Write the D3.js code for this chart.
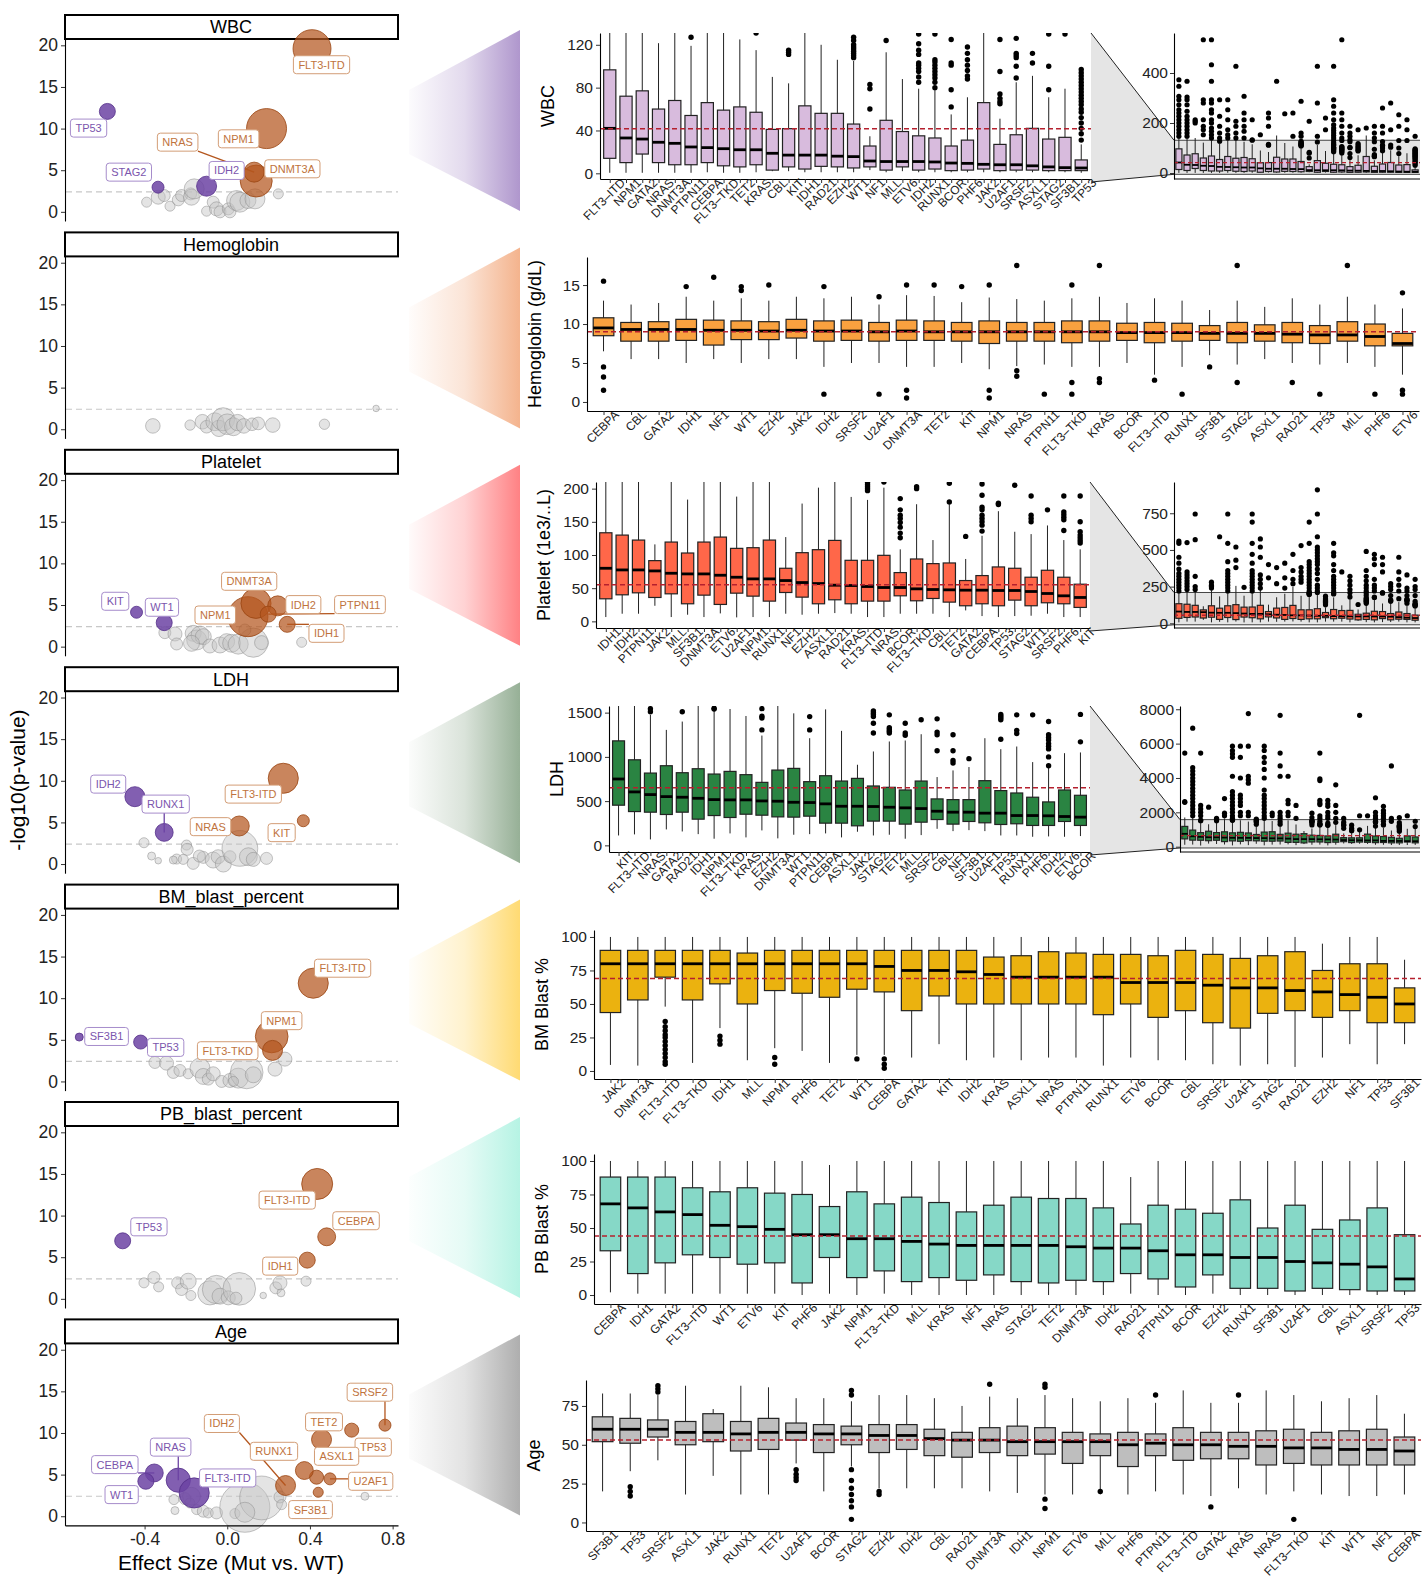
<!DOCTYPE html>
<html>
<head>
<meta charset="utf-8">
<script src="https://cdn.jsdelivr.net/npm/d3@7"></script>
<style>
  body { margin: 0; background: #fff; }
  svg { display: block; font-family: "Liberation Sans", Arial, Helvetica, sans-serif; }
</style>
</head>
<body>
<svg id="chart"></svg>
<script>
// ---------- volcano facets: [gene, effect size, -log10(p), n mutated, direction]
const facetNames = ["WBC", "Hemoglobin", "Platelet", "LDH", "BM_blast_percent", "PB_blast_percent", "Age"];

const wbcPts = [
  ["", -0.39, 1.16, 19, "ns"], ["", -0.334, 1.76, 37, "ns"], ["", -0.305, 1.96, 27, "ns"], ["", -0.277, 0.68, 19, "ns"],
  ["", -0.237, 1.44, 27, "ns"], ["", -0.221, 1.96, 27, "ns"], ["", -0.177, 2.16, 27, "ns"], ["", -0.173, 1.76, 48, "ns"],
  ["", -0.16, 2.76, 75, "ns"], ["", -0.1, 0.08, 19, "ns"], ["", -0.068, 1.16, 27, "ns"], ["", -0.052, 0.36, 37, "ns"],
  ["", -0.035, 0.0, 27, "ns"], ["", 0.005, 0.36, 27, "ns"], ["", 0.013, 0.0, 27, "ns"], ["", 0.045, 1.36, 75, "ns"],
  ["", 0.061, 1.16, 75, "ns"], ["", 0.10, 1.36, 48, "ns"], ["", 0.134, 1.56, 75, "ns"], ["", 0.247, 2.16, 19, "ns"],
  ["FLT3-ITD", 0.41, 19.6, 270, "up"], ["NPM1", 0.19, 10.0, 300, "up"], ["DNMT3A", 0.14, 3.7, 192, "up"],
  ["NRAS", 0.13, 4.77, 75, "up"], ["TP53", -0.58, 12.06, 48, "down"], ["STAG2", -0.335, 2.96, 27, "down"],
  ["IDH2", -0.10, 3.08, 75, "down"]
];
const wbcLabels = [["FLT3-ITD", 0.456, 17.67], ["NPM1", 0.055, 8.77], ["NRAS", -0.24, 8.37], ["DNMT3A", 0.315, 5.17],
  ["TP53", -0.671, 10.06], ["STAG2", -0.476, 4.77], ["IDH2", -0.003, 4.97]];

const hgbPts = [
  ["", -0.36, 0.4, 40, "ns"], ["", -0.18, 0.5, 20, "ns"], ["", -0.12, 0.9, 40, "ns"], ["", -0.1, 0.3, 30, "ns"],
  ["", -0.06, 0.9, 60, "ns"], ["", -0.04, 0.1, 50, "ns"], ["", -0.02, 1.2, 100, "ns"], ["", 0.0, 0.6, 80, "ns"],
  ["", 0.03, 0.3, 60, "ns"], ["", 0.05, 0.8, 50, "ns"], ["", 0.08, 0.4, 40, "ns"], ["", 0.12, 0.6, 30, "ns"],
  ["", 0.15, 0.7, 30, "ns"], ["", 0.22, 0.5, 40, "ns"], ["", 0.47, 0.6, 20, "ns"], ["", 0.72, 2.5, 8, "ns"]
];
const hgbLabels = [];

const pltPts = [
  ["", -0.302, 1.68, 27, "ns"], ["", -0.253, 1.52, 37, "ns"], ["", -0.245, 0.32, 27, "ns"], ["", -0.165, 1.6, 48, "ns"],
  ["", -0.148, 0.8, 75, "ns"], ["", -0.132, 1.4, 60, "ns"], ["", -0.116, 1.2, 48, "ns"], ["", -0.173, 0.4, 48, "ns"],
  ["", -0.084, 0.08, 37, "ns"], ["", -0.035, 0.2, 48, "ns"], ["", -0.003, 0.6, 48, "ns"], ["", 0.021, 0.4, 60, "ns"],
  ["", 0.053, 0.3, 75, "ns"], ["", 0.126, 0.48, 160, "ns"], ["", 0.166, 0.48, 37, "ns"], ["", 0.36, 0.52, 19, "ns"],
  ["NPM1", 0.10, 3.6, 300, "up"], ["DNMT3A", 0.139, 5.2, 170, "up"], ["IDH2", 0.244, 4.9, 75, "up"],
  ["PTPN11", 0.198, 3.9, 48, "up"], ["IDH1", 0.29, 2.68, 48, "up"], ["", 0.085, 2.0, 27, "ns"],
  ["KIT", -0.439, 4.13, 27, "down"], ["WT1", -0.305, 2.88, 48, "down"]
];
const pltLabels = [["DNMT3A", 0.106, 7.85], ["NPM1", -0.058, 3.8], ["IDH2", 0.368, 5.05], ["PTPN11", 0.642, 5.05],
  ["IDH1", 0.48, 1.6], ["KIT", -0.542, 5.45], ["WT1", -0.316, 4.73]];

const ldhPts = [
  ["", -0.403, 2.56, 19, "ns"], ["", -0.366, 0.96, 12, "ns"], ["", -0.334, 0.4, 8, "ns"], ["", -0.245, 0.6, 19, "ns"],
  ["", -0.197, 2.28, 19, "ns"], ["", -0.194, 1.76, 27, "ns"], ["", -0.165, 0.08, 27, "ns"], ["", -0.116, 0.8, 27, "ns"],
  ["", -0.068, 0.48, 48, "ns"], ["", -0.044, 0.88, 37, "ns"], ["", -0.019, 0.0, 48, "ns"], ["", 0.013, 0.88, 27, "ns"],
  ["", 0.061, 1.88, 240, "ns"], ["", 0.102, 0.88, 60, "ns"], ["", 0.126, 0.56, 37, "ns"], ["", 0.19, 0.68, 27, "ns"],
  ["", -0.213, 0.56, 19, "ns"], ["", -0.261, 0.48, 12, "ns"], ["", -0.135, 0.96, 27, "ns"],
  ["IDH2", -0.447, 8.09, 75, "down"], ["RUNX1", -0.305, 3.8, 60, "down"], ["FLT3-ITD", 0.271, 10.3, 170, "up"],
  ["NRAS", 0.058, 4.57, 75, "up"], ["KIT", 0.368, 5.2, 27, "up"]
];
const ldhLabels = [["IDH2", -0.576, 9.6], ["RUNX1", -0.298, 7.2], ["FLT3-ITD", 0.126, 8.4], ["NRAS", -0.081, 4.49], ["KIT", 0.263, 3.77]];

const bmPts = [
  ["", -0.35, 2.28, 27, "ns"], ["", -0.294, 2.2, 37, "ns"], ["", -0.261, 1.08, 27, "ns"], ["", -0.229, 1.32, 27, "ns"],
  ["", -0.189, 0.92, 19, "ns"], ["", -0.132, 1.6, 75, "ns"], ["", -0.116, 0.6, 48, "ns"], ["", -0.092, 0.28, 27, "ns"],
  ["", -0.068, 0.92, 37, "ns"], ["", -0.027, 0.0, 27, "ns"], ["", 0.013, 0.12, 37, "ns"], ["", 0.053, 0.4, 75, "ns"],
  ["", 0.094, 1.08, 200, "ns"], ["", 0.126, 0.8, 48, "ns"], ["", 0.231, 1.48, 37, "ns"], ["", 0.279, 2.68, 37, "ns"],
  ["", 0.03, 0.0, 19, "ns"],
  ["SF3B1", -0.716, 5.33, 12, "down"], ["TP53", -0.419, 4.73, 37, "down"], ["FLT3-ITD", 0.416, 11.8, 170, "up"],
  ["NPM1", 0.215, 5.4, 200, "up"], ["FLT3-TKD", 0.219, 3.73, 75, "up"]
];
const bmLabels = [["SF3B1", -0.584, 5.4], ["TP53", -0.298, 4.09], ["FLT3-ITD", 0.558, 13.6], ["NPM1", 0.263, 7.3], ["FLT3-TKD", 0.002, 3.69]];

const pbPts = [
  ["", -0.403, 1.92, 19, "ns"], ["", -0.355, 2.56, 27, "ns"], ["", -0.332, 1.44, 19, "ns"], ["", -0.24, 1.92, 27, "ns"],
  ["", -0.221, 1.12, 27, "ns"], ["", -0.189, 2.12, 48, "ns"], ["", -0.176, 0.4, 19, "ns"], ["", -0.084, 0.72, 110, "ns"],
  ["", -0.052, 1.12, 150, "ns"], ["", -0.035, 0.32, 48, "ns"], ["", 0.005, 0.12, 37, "ns"], ["", 0.058, 1.2, 200, "ns"],
  ["", 0.042, 0.08, 27, "ns"], ["", 0.174, 0.4, 8, "ns"], ["", 0.235, 1.32, 27, "ns"], ["", 0.255, 1.92, 37, "ns"],
  ["", 0.26, 0.72, 12, "ns"], ["", 0.381, 2.12, 19, "ns"],
  ["TP53", -0.506, 6.97, 48, "down"], ["FLT3-ITD", 0.435, 13.8, 180, "up"], ["CEBPA", 0.481, 7.45, 60, "up"],
  ["IDH1", 0.387, 4.65, 48, "up"]
];
const pbLabels = [["TP53", -0.379, 8.65], ["FLT3-ITD", 0.29, 11.86], ["CEBPA", 0.623, 9.38], ["IDH1", 0.256, 3.93]];

const agePts = [
  ["", -0.258, 2.0, 19, "ns"], ["", -0.253, 0.68, 12, "ns"], ["", -0.205, 2.12, 27, "ns"], ["", -0.181, 1.6, 19, "ns"],
  ["", -0.173, 2.4, 60, "ns"], ["", -0.148, 0.8, 19, "ns"], ["", -0.116, 0.6, 27, "ns"], ["", -0.092, 0.4, 19, "ns"],
  ["", -0.052, 0.4, 27, "ns"], ["", 0.037, 0.32, 19, "ns"], ["", 0.085, 1.08, 470, "ns"], ["", 0.166, 2.2, 360, "ns"],
  ["", 0.085, 0.48, 75, "ns"], ["", 0.255, 2.32, 27, "ns"], ["", 0.263, 1.4, 19, "ns"], ["", 0.666, 2.4, 12, "ns"],
  ["CEBPA", -0.353, 5.2, 60, "down"], ["WT1", -0.394, 4.2, 48, "down"], ["NRAS", -0.237, 4.33, 110, "down"],
  ["FLT3-ITD", -0.16, 2.8, 170, "down"],
  ["SRSF2", 0.763, 10.94, 27, "up"], ["TP53", 0.602, 10.34, 37, "up"], ["TET2", 0.456, 9.21, 75, "up"],
  ["ASXL1", 0.432, 4.69, 37, "up"], ["RUNX1", 0.373, 5.49, 60, "up"], ["U2AF1", 0.497, 4.49, 27, "up"],
  ["IDH2", 0.282, 3.69, 75, "up"], ["SF3B1", 0.44, 2.88, 19, "up"]
];
const ageLabels = [["CEBPA", -0.544, 6.2], ["WT1", -0.511, 2.6], ["NRAS", -0.274, 8.3], ["FLT3-ITD", 0.002, 4.6],
  ["SRSF2", 0.69, 14.9], ["TP53", 0.706, 8.3], ["TET2", 0.468, 11.34], ["ASXL1", 0.529, 7.2], ["RUNX1", 0.226, 7.8],
  ["U2AF1", 0.694, 4.2], ["IDH2", -0.026, 11.14], ["SF3B1", 0.403, 0.8]];

const facetPts = [wbcPts, hgbPts, pltPts, ldhPts, bmPts, pbPts, agePts];
const facetLabels = [wbcLabels, hgbLabels, pltLabels, ldhLabels, bmLabels, pbLabels, ageLabels];
const effectTicks = [-0.4, 0, 0.4, 0.8];
const logpTicks = [0, 5, 10, 15, 20];
const pCut = 2.4;

// ---------- boxplot panels
const wbcGenes = ["FLT3-ITD","NPM1","GATA2","NRAS","DNMT3A","PTPN11","CEBPA","FLT3-TKD","TET2","KRAS","CBL","KIT","IDH1","RAD21","EZH2","WT1","NF1","MLL","ETV6","IDH2","RUNX1","BCOR","PHF6","JAK2","U2AF1","SRSF2","ASXL1","STAG2","SF3B1","TP53"];
const wbcQ3 = [96.6,72,77,60,68,54,66,59,62,57,41,41.7,63,56,56,46,25.5,49.5,39,35,33,25.5,31,66,27,36,42,32,33.6,12.5];
const wbcMed = [42,33,32,29,28,24.6,24,23,22,22,18.7,17,17,17,16,15.6,11.5,11,11,11,10.6,9.6,9.3,8.4,8,8,7,6,5.3,5];
const wbcQ1 = [14,10,18,10,8,8,10,7,6,8,3,6,4,6.5,6,5,6,3,6,3,4,2.5,3,4,2.5,3,3,2.5,2.5,2.5];
const wbcLo = [0.5,0.5,0.5,0.5,0.5,0.5,1,0.5,0.5,1,2,2,1,1,1,1,3,1,2,1,1,1,1,1,1,1,1,1,1,0.5];
const wbcHi = [140,150,140,121.5,145,119,150,150,125,115,90,84,150,120,106,105,34.6,113,88,79,79,55,71,150,51,85,91,71,79,27];
const wbcOut = [[],[],[],[],[],[127],[],[],[],[131],[],[111,113,115],[],[],[],[108,110,112,114,116,118,120,124,127],[60,79,83],[124],[],
  [85,90,95,98,101,103,111,115,121,130],[80,85,89,92,95,98,101,104,106,130],[62,78,101,103,125],[88,91,96,101,106,112,118],[],
  [65,67,70,74,95,125],[89,100,108,110,112,126],[103,112],[78,100,130],[130],[31,37,42,47,52,57,60,64,67,70,73,76,79,82,85,88,91,94,97]];
const wbcOutHigh = [[147,160,173,187,200,213,227,240,253,273,293,307,347,373],[147,160,173,187,200,213,227,247,273,293,304,367],[200,207,213],
  [153,173,187,213,280,293,533],[140,153,167,180,200,213,240,253,280,293,367,433,533],[140,160,187,227,293],[140,153,173,213,253,293],
  [140,160,187,207,427],[140,167,187,213,240,307],[133,213],[153],[187,220,240],[367],[237],[147,240],[147,160,287],[207],[147,280,427],
  [173,220],[140,150,160,170,180,193,213,240,267,293,427],[140,160,187,213,240,533],[133,147,160,187],[173],[180],[140,160,187],
  [160,187,260],[173,280],[187,233],[173,213],[147]];

const hgbGenes = ["CEBPA","CBL","GATA2","IDH1","NF1","WT1","EZH2","JAK2","IDH2","SRSF2","U2AF1","DNMT3A","TET2","KIT","NPM1","NRAS","PTPN11","FLT3-TKD","KRAS","BCOR","FLT3-ITD","RUNX1","SF3B1","STAG2","ASXL1","RAD21","TP53","MLL","PHF6","ETV6"];
const hgbQ3 = [10.8,10.2,10.3,10.6,10.5,10.4,10.3,10.6,10.4,10.5,10.2,10.5,10.4,10.2,10.4,10.2,10.2,10.4,10.4,10.1,10.2,10.1,9.8,10.2,9.9,10.2,9.8,10.3,10.0,8.8];
const hgbMed = [9.5,9.3,9.3,9.3,9.2,9.2,9.1,9.2,9.1,9.1,9.0,9.1,9.0,9.0,9.0,9.0,9.0,9.0,9.0,8.9,8.9,8.9,8.8,8.8,8.8,8.7,8.6,8.6,8.4,7.5];
const hgbQ1 = [8.5,7.8,7.8,7.9,7.3,8.0,8.0,8.2,7.8,7.9,7.8,7.9,7.9,7.8,7.5,7.8,7.8,7.6,7.8,7.9,7.6,7.8,7.9,7.6,7.8,7.6,7.5,7.8,7.2,7.2];
const hgbLo = [6.5,5.5,5.5,5,5.5,5,5.5,5.5,4.5,5,5,4.5,4.5,5,4.2,4.6,4.8,4.5,4.5,5,3.5,4.5,6,4.8,5.5,5,4.8,5,4.5,3.5];
const hgbHi = [13,12.5,12.7,13.5,13,13.3,13,13.5,13.3,13.5,12.5,13.7,13.6,12.8,13.4,13.2,13,13.3,13.5,12.7,13.3,13,11.8,13,12.2,13.3,12.5,13.5,12.5,12];
const hgbOut = [[15.5,4.5,3.2,1.5],[],[],[14.8],[16],[14.3,14.8],[15],[],[14.8,1],[],[13.5,1],[15,1.5,0.5],[15],[14.8],[15,1.5,0.5],
  [17.5,4,3.3],[1],[15,2.5,1],[17.5,3,2.5],[],[2.8],[1],[4.5],[17.5,2.5],[],[2.5],[1],[17.5],[1],[14,1.5,1]];

const pltGenes = ["IDH1","IDH2","PTPN11","JAK2","MLL","SF3B1","DNMT3A","ETV6","U2AF1","NPM1","RUNX1","NF1","EZH2","ASXL1","RAD21","KRAS","FLT3-ITD","NRAS","BCOR","FLT3-TKD","CBL","TET2","GATA2","CEBPA","TP53","STAG2","WT1","SRSF2","PHF6","KIT"];
const pltQ3 = [133.5,130,122.5,91.5,119.5,103,119.5,127,110,111,122.5,80,103.5,108,122,92,92,99.5,73.5,94,87,88,61.5,69,82,80,66.5,77,66.5,56];
const pltMed = [80,77.5,77.5,76,72.5,71.5,71.5,69.5,66.5,64,64,61.5,58.5,57,54.5,54,52.5,51,51,49,48,47.5,47,47,46.5,46.5,45,42,38.5,36];
const pltQ1 = [34,40,43,36,41.5,26.5,39.5,25.5,42.5,38,30.5,43.5,36.5,26.5,32.5,26.5,30.5,30.5,38.5,31,34.5,29,23.5,26.5,23.5,32,23.5,28,26.5,21];
const pltLo = [6.5,11.5,11.5,23.5,6.5,10,6.5,12,6,6.5,6.5,11.5,10,11.5,12.5,11.5,6.5,6.5,11.5,11.5,11.5,6.5,16.5,8,6.5,8,8.5,11.5,6.5,6.5];
const pltHi = [230,215,240,116,225,183.5,235,255,188,235,240,127,177.5,201.5,250,187.5,183,201.5,108.5,176.5,122.5,177.5,94,129,166,135,131.5,144.5,122.5,108.5];
const pltOut = [[],[],[],[],[],[],[],[],[],[],[],[],[],[],[],[],[197,200,203,206,209],[210],[126,133,142,149,155,160,168,185],[200,203],[],
  [180,208],[128],[136,145,150,155,160,168,172,190,207],[176,178],[205],[150,155,160,189],[168],[137,153,157,161,165,189],[118,122,126,130,135,150,189]];
const pltOutHigh = [[220,240,260,280,300,320,340,370,410,450,545,560],[230,250,270,290,310,330,350,550],[230,250,320,570,745],[],
  [240,250,260,280],[590],[220,240,260,280,300,320,340,360,420,545,745],[380,430,520],[245],
  [220,240,260,280,300,320,340,360,410,470,545,690,745],[240,270,300,330,450,520,575],[310,400],[270,380],[240,310,410],
  [270,300,360,470],[280,300,320,350,380,530],[220,240,260,280,300,320,340,360,380,400,420,545,690],
  [220,240,260,300,340,370,400,420,440,460,480,500,520,590,745,910],[],[220,240,260,280,300,320,360,400,460,480,545],[350],
  [230,260,290,320],[],[220,240,260,290,320,360,490],[220,240,260,300,400,440,470],[210,350,400,450],[230,250,270],
  [220,260,300,350,450],[220,240,330],[230,250,300]];

const ldhGenes = ["KIT","FLT3-ITD","NRAS","GATA2","RAD21","IDH1","NPM1","FLT3-TKD","KRAS","EZH2","DNMT3A","WT1","PTPN11","CEBPA","ASXL1","JAK2","STAG2","TET2","MLL","SRSF2","CBL","NF1","SF3B1","U2AF1","TP53","RUNX1","PHF6","IDH2","ETV6","BCOR"];
const ldhQ3 = [1181,967,817,900,821,866,806,836,799,712,851,870,720,787,727,757,671,656,626,727,525,517,517,731,619,592,544,491,626,566];
const ldhMed = [750,604,574,551,544,532,517,514,514,502,499,487,484,469,442,442,439,431,424,416,386,375,375,364,364,337,337,334,326,319];
const ldhQ1 = [454,382,375,349,375,296,337,315,352,341,322,319,330,251,251,221,274,274,240,262,292,240,270,255,236,244,225,225,270,225];
const ldhLo = [112,124,67,180,157,127,75,135,90,169,79,120,127,135,90,154,112,120,75,116,187,161,172,161,112,112,97,101,97,105];
const ldhHi = [1700,1750,1474,1305,1399,1650,1519,1541,1462,1241,1700,1492,1211,1537,1294,911,1061,1174,1185,1256,772,847,885,1211,1087,1117,941,889,1042,1050];
const ldhOut = [[],[],[1510,1545],[],[1510],[],[1540,1550],[],[],[1305,1440,1460,1545],[],[],[1305,1455],[],[],[],
  [1270,1380,1455,1480,1500,1520],[1270,1290,1310,1330,1475],[1245,1270,1380],[1420],[1070,1250,1280,1430],[930,960,1070,1250],
  [980],[],[1200,1420,1440,1460,1480],[1265,1300,1475],[1475],[900,1000,1090,1120,1150,1190,1220,1250,1400],[],[1170,1480]];
const ldhOutHigh = [[2580,2620,5450],[1800,2000,2200,2400,2600,2800,3000,3200,3400,3600,3800,4000,4200,4400,4600,6900],
  [1800,2000,2200,2400,5450],[2300],[1600,1650],[1800,1950,2800],[1650,1800,2000,2200,2400,2600,2800,3000,3200,4100,5200,5400,5600,5850],
  [1800,2000,2400,2600,2800,3000,4000,5200,5850],[1800,2000,3700,3900,4100,5850,7750],[1600],
  [1650,1800,2000,2200,2400,2600,2800,3000,3300,4000,4500,4900,5200,5600,5850],[1800,1950],[1650,1800,2000,4100,4700,5450,7650],
  [1800,2000,2500,2700,4100],[1650,2400],[],[1700,1950],[1650,1800,2450,2550,2700,3850,3950,5450],[1650,1800,2000,2350,2500,2700],
  [1650,2000,2400,3600],[1650],[],[1800,7650],[1800],[1650,1800,2000,2850],[1650,1800,1950,2100,2350],[1650,4700],[1700],[1800],[]];

const bmGenes = ["JAK2","DNMT3A","FLT3-ITD","FLT3-TKD","IDH1","MLL","NPM1","PHF6","TET2","WT1","CEBPA","GATA2","KIT","IDH2","KRAS","ASXL1","NRAS","PTPN11","RUNX1","ETV6","BCOR","CBL","SRSF2","U2AF1","STAG2","RAD21","EZH2","NF1","TP53","SF3B1"];
const bmQ3 = [90,90,90,90,90,88,90,90,90,90,90,90,90,90,85,86,89,88,87,87,86,90,87,84,86,89,75,80,80,62];
const bmMed = [80,80,80,80,80,80,80,80,80,80,78,75,75,74,72,70,70,70,70,66,66,66,64,62,62,60,59,57,55,50];
const bmQ1 = [43.6,53,70,53,65,50,60,58,55,61,59,45,56,50,50,50,50,50,42,50,40,45,36,32,43,45,40,45,36,36];
const bmLo = [4.5,4,48,6,32,8,17,15,6,12,12,10,20,8,10,8,10,10,4,10,8,8,5,4,5,3,10,20,5,20];
const bmHi = [100,100,100,100,100,100,100,100,100,100,100,100,100,100,100,100,100,100,100,100,100,100,100,100,100,100,95,100,100,83];
const bmOut = [[],[],[37,33,30,27,25,22,19,16,13,10,7,5],[],[26,23,20],[],[10,5],[],[],[9],[9,5,2],[],[],[],[],[],[],[],[],[],[],[],[],[],[],[],[],[],[],[]];

const pbGenes = ["CEBPA","IDH1","GATA2","FLT3-ITD","WT1","ETV6","KIT","PHF6","JAK2","NPM1","FLT3-TKD","MLL","KRAS","NF1","NRAS","STAG2","TET2","DNMT3A","IDH2","RAD21","PTPN11","BCOR","EZH2","RUNX1","SF3B1","U2AF1","CBL","ASXL1","SRSF2","TP53"];
const pbQ3 = [88,88,88,80,77,80,76,75,66,77,68,73,69,62,67,73,72,72,65,53,67,64,61,71,50,67,49,56,65,45];
const pbMed = [68,65,62,60,52,51,49,45,45,42,42,40,38,37,37,37,37,36,35,35,33,30,30,28,28,25,24,23,21,12];
const pbQ1 = [33,16,24,30,28,23,24,9,28,13,18,10,13,11,15,10,9,11,10,16,12,6,15,5,5,3,5,4,3,3];
const pbLo = [2,1,1,1,1,1,1,0,1,0,1,0,0,0,0,0,0,0,0,1,0,0,1,0,0,0,0,0,0,0];
const pbHi = [100,100,100,100,100,100,100,100,97,100,100,100,100,100,100,100,100,100,100,88,100,100,100,100,100,100,100,100,100,100];
const pbOut = pbGenes.map(() => []);

const ageGenes = ["SF3B1","TP53","SRSF2","ASXL1","JAK2","RUNX1","TET2","U2AF1","BCOR","STAG2","EZH2","IDH2","CBL","RAD21","DNMT3A","IDH1","NPM1","ETV6","MLL","PHF6","PTPN11","FLT3-ITD","GATA2","KRAS","NRAS","FLT3-TKD","KIT","WT1","NF1","CEBPA"];
const ageQ3 = [68,67,66,65,70,65,67,64,63,62,63,63,60,58,61,62,61,58,57,58,57,61,58,58,59,60,58,59,60,55];
const ageMed = [60,60,60,58,58,57,58,58,57,57,56,56,54,53,53,52,52,52,52,50,51,50,50,49,49,48,48,47,47,46];
const ageQ1 = [52,51,55,50,52,46,47,53,45,50,45,47,43,42,45,43,44,38,43,36,43,40,41,41,37,38,37,37,37,37];
const ageLo = [20,33,40,18,30,18,18,38,20,36,22,22,22,22,20,19,18,18,18,18,20,18,17,22,18,20,18,17,17,18];
const ageHi = [83,83,82,88,73,88,87,80,80,78,82,82,80,75,81,80,82,80,78,80,77,85,77,77,85,82,78,80,82,70];
const ageOut = [[],[23,20,17],[84,86,88],[],[],[],[],[34,31,29,27],[],[85,82,34,27,22,18,14,10,2],[20,18],[],[],[],[89],[],
  [89,87,15,9],[],[20],[],[82],[],[10],[82],[],[2],[],[],[],[]];

// ---------- drawing
const W = 1428, H = 1578;
const svg = d3.select("#chart").attr("width", W).attr("height", H);
const ORANGE = "#B4561E", PURPLE = "#6C43A3";
const dirFill = { up: ORANGE, down: PURPLE, ns: "#C4C4C4" };
const dirStroke = { up: "#9A4512", down: "#553089", ns: "#8C8C8C" };
const dirAlpha = { up: 0.72, down: 0.85, ns: 0.45 };
const labText = { up: "#C0733D", down: "#7B55AD" };
const labEdge = { up: "#D39D76", down: "#A68CCB" };

const facetTop = 14, facetStep = 217.4;
const vx = d3.scaleLinear().domain([-0.785, 0.826]).range([65, 398]);
const rScale = d3.scaleSqrt().domain([0, 300]).range([0, 20]);
const trapColor = ["#A184C4", "#F2A679", "#FF6B6E", "#84A284", "#FFD45A", "#A9F1DF", "#A0A0A0"];

const defs = svg.append("defs");

function styleAxis(sel, size) {
  sel.select(".domain").attr("stroke", "#000").attr("stroke-width", 1.1);
  sel.selectAll(".tick line").attr("stroke", "#333");
  sel.selectAll(".tick text").attr("fill", "#222").style("font-size", size + "px").style("font-family", null);
}

facetNames.forEach((name, i) => {
  const top = facetTop + i * facetStep;
  const vy = d3.scaleLinear().domain([-1.1, 20.76]).range([top + 207, top + 25]);
  const g = svg.append("g");

  // gradient wedge linking to the boxplot panel
  const gid = "grad" + i;
  const lg = defs.append("linearGradient").attr("id", gid).attr("x1", "0%").attr("x2", "100%");
  lg.append("stop").attr("offset", "0%").attr("stop-color", trapColor[i]).attr("stop-opacity", 0.03);
  lg.append("stop").attr("offset", "50%").attr("stop-color", trapColor[i]).attr("stop-opacity", 0.3);
  lg.append("stop").attr("offset", "100%").attr("stop-color", trapColor[i]).attr("stop-opacity", 0.85);
  svg.append("polygon")
    .attr("points", [[409, top + 76], [520, top + 16], [520, top + 197], [409, top + 140]].map(p => p.join(",")).join(" "))
    .attr("fill", `url(#${gid})`);

  // strip
  g.append("rect").attr("x", 65).attr("y", top + 1).attr("width", 333).attr("height", 24)
    .attr("fill", "#fff").attr("stroke", "#000").attr("stroke-width", 2);
  g.append("text").attr("x", 231).attr("y", top + 13).attr("dy", "0.36em").attr("text-anchor", "middle")
    .style("font-size", "18px").text(name);

  // significance threshold
  g.append("line").attr("x1", 66).attr("x2", 398).attr("y1", vy(pCut)).attr("y2", vy(pCut))
    .attr("stroke", "#C8C8C8").attr("stroke-width", 1.2).attr("stroke-dasharray", "6,4");

  const pts = facetPts[i].slice().sort((a, b) => (a[4] === "ns" ? 0 : 1) - (b[4] === "ns" ? 0 : 1));
  g.selectAll("circle.pt").data(pts).join("circle").attr("class", "pt")
    .attr("cx", d => vx(d[1])).attr("cy", d => vy(d[2])).attr("r", d => rScale(d[3]))
    .attr("fill", d => dirFill[d[4]]).attr("fill-opacity", d => dirAlpha[d[4]])
    .attr("stroke", d => dirStroke[d[4]]).attr("stroke-opacity", d => d[4] === "ns" ? 0.5 : 0.8).attr("stroke-width", 1);

  // repelled labels
  const segG = g.append("g"), labG = g.append("g");
  facetLabels[i].forEach(([gene, lx, ly]) => {
    const p = facetPts[i].find(d => d[0] === gene);
    const px = vx(p[1]), py = vy(p[2]), r = rScale(p[3]);
    const tx = vx(lx), ty = vy(ly);
    const t = labG.append("text").attr("x", tx).attr("y", ty).attr("dy", "0.36em").attr("text-anchor", "middle")
      .attr("fill", labText[p[4]]).style("font-size", "11px").text(gene);
    const w = t.node().getComputedTextLength() + 10, h = 18;
    labG.insert("rect", "text").attr("x", tx - w / 2).attr("y", ty - h / 2).attr("width", w).attr("height", h).attr("rx", 3)
      .attr("fill", "#fff").attr("stroke", labEdge[p[4]]).attr("stroke-width", 1);
    labG.node().appendChild(t.node());
    const nx = Math.max(tx - w / 2, Math.min(px, tx + w / 2)), ny = Math.max(ty - h / 2, Math.min(py, ty + h / 2));
    if (Math.hypot(nx - px, ny - py) - r > 5) {
      segG.append("line").attr("x1", nx).attr("y1", ny).attr("x2", px).attr("y2", py)
        .attr("stroke", p[4] === "up" ? ORANGE : PURPLE).attr("stroke-width", 1.3);
    }
  });

  const ya = g.append("g").attr("transform", "translate(65,0)")
    .call(d3.axisLeft(vy).tickValues(logpTicks).tickSize(4).tickSizeOuter(0).tickPadding(3));
  styleAxis(ya, 17.5);

  if (i === facetNames.length - 1) {
    const xa = g.append("g").attr("transform", `translate(0,${top + 207})`)
      .call(d3.axisBottom(vx).tickValues(effectTicks).tickSize(4).tickSizeOuter(0).tickPadding(3));
    styleAxis(xa, 17.5);
    xa.selectAll(".tick text").text(d => d3.format(".1f")(d).replace("\u2212", "-"));
    g.append("text").attr("x", 231).attr("y", top + 252).attr("text-anchor", "middle")
      .style("font-size", "21px").text("Effect Size (Mut vs. WT)");
  }
});

svg.append("text").attr("transform", "translate(25,780) rotate(-90)").attr("text-anchor", "middle")
  .style("font-size", "21px").text("-log10(p-value)");

// ---------- boxplot panels
const boxPanels = [
  { title: "WBC", genes: wbcGenes, q1: wbcQ1, med: wbcMed, q3: wbcQ3, lo: wbcLo, hi: wbcHi, outs: wbcOut, outsHigh: wbcOutHigh,
    fill: "#D8BBDD", mean: 41.5, ticks: [0, 40, 80, 120], x0: 600, x1: 1091, y0: 33, y1: 179, dom: [-5.3, 131],
    inset: { x0: 1174, x1: 1420, dom: [-24, 560], ticks: [0, 200, 400] } },
  { title: "Hemoglobin (g/dL)", genes: hgbGenes, q1: hgbQ1, med: hgbMed, q3: hgbQ3, lo: hgbLo, hi: hgbHi, outs: hgbOut,
    fill: "#F9A13F", mean: 9.0, ticks: [0, 5, 10, 15], x0: 587, x1: 1419, y0: 257, y1: 411, dom: [-1.16, 18.6] },
  { title: "Platelet (1e3/..L)", genes: pltGenes, q1: pltQ1, med: pltMed, q3: pltQ3, lo: pltLo, hi: pltHi, outs: pltOut, outsHigh: pltOutHigh,
    fill: "#FF6749", mean: 55, ticks: [0, 50, 100, 150, 200], x0: 596, x1: 1090, y0: 482, y1: 628, dom: [-10, 210],
    inset: { x0: 1174, x1: 1420, dom: [-32, 963], ticks: [0, 250, 500, 750] } },
  { title: "LDH", genes: ldhGenes, q1: ldhQ1, med: ldhMed, q3: ldhQ3, lo: ldhLo, hi: ldhHi, outs: ldhOut, outsHigh: ldhOutHigh,
    fill: "#2A8442", mean: 650, ticks: [0, 500, 1000, 1500], x0: 609, x1: 1090, y0: 706, y1: 852, dom: [-75, 1575],
    inset: { x0: 1180, x1: 1420, dom: [-309, 8190], ticks: [0, 2000, 4000, 6000, 8000] } },
  { title: "BM Blast %", genes: bmGenes, q1: bmQ1, med: bmMed, q3: bmQ3, lo: bmLo, hi: bmHi, outs: bmOut,
    fill: "#EBB20F", mean: 69, ticks: [0, 25, 50, 75, 100], x0: 594, x1: 1421, y0: 930, y1: 1079, dom: [-6, 105.2] },
  { title: "PB Blast %", genes: pbGenes, q1: pbQ1, med: pbMed, q3: pbQ3, lo: pbLo, hi: pbHi, outs: pbOut,
    fill: "#86D8C7", mean: 44, ticks: [0, 25, 50, 75, 100], x0: 594, x1: 1421, y0: 1154, y1: 1304, dom: [-6.7, 105.2] },
  { title: "Age", genes: ageGenes, q1: ageQ1, med: ageMed, q3: ageQ3, lo: ageLo, hi: ageHi, outs: ageOut,
    fill: "#BEBEBE", mean: 53, ticks: [0, 25, 50, 75], x0: 586, x1: 1421, y0: 1380, y1: 1531, dom: [-5.5, 91.7] }
];

let clipN = 0;
function clipRect(x0, y0, x1, y1) {
  const id = "clip" + (clipN++);
  defs.append("clipPath").attr("id", id).append("rect").attr("x", x0).attr("y", y0).attr("width", x1 - x0).attr("height", y1 - y0);
  return `url(#${id})`;
}

function drawBoxes(g, p, x, y, full, medW, dotR) {
  const bw = x.step() * 0.75;
  const rows = p.genes.map((gene, i) => ({
    gene, q1: p.q1[i], med: p.med[i], q3: p.q3[i], lo: p.lo[i], hi: p.hi[i],
    outs: full ? p.outs[i].concat(p.outsHigh[i]) : p.outs[i]
  }));
  const b = g.selectAll("g.box").data(rows).join("g").attr("class", "box");
  b.append("line").attr("x1", d => x(d.gene)).attr("x2", d => x(d.gene)).attr("y1", d => y(d.lo)).attr("y2", d => y(d.hi))
    .attr("stroke", "#222").attr("stroke-width", 1);
  b.append("rect").attr("x", d => x(d.gene) - bw / 2).attr("width", bw).attr("y", d => y(d.q3)).attr("height", d => y(d.q1) - y(d.q3))
    .attr("fill", p.fill).attr("stroke", "#222").attr("stroke-width", 1.2);
  b.append("line").attr("x1", d => x(d.gene) - bw / 2).attr("x2", d => x(d.gene) + bw / 2).attr("y1", d => y(d.med)).attr("y2", d => y(d.med))
    .attr("stroke", "#000").attr("stroke-width", medW);
  b.selectAll("circle").data(d => d.outs.map(v => ({ gene: d.gene, v }))).join("circle")
    .attr("cx", o => x(o.gene)).attr("cy", o => y(o.v)).attr("r", dotR).attr("fill", "#000");
}

boxPanels.forEach(p => {
  const g = svg.append("g");
  const x = d3.scalePoint().domain(p.genes).range([p.x0, p.x1]).padding(0.6);
  const y = d3.scaleLinear().domain(p.dom).range([p.y1, p.y0]);

  if (p.inset) {
    const ins = p.inset;
    const yi = d3.scaleLinear().domain(ins.dom).range([p.y1, p.y0]);
    const rt = yi(p.dom[1]), rb = yi(p.dom[0]);
    // zoom connector and highlighted window
    g.append("polygon").attr("points", [[p.x1, p.y0], [ins.x0, rt], [ins.x0, rb], [p.x1, p.y1 + 3]].map(q => q.join(",")).join(" "))
      .attr("fill", "#E5E5E5");
    g.append("line").attr("x1", p.x1).attr("y1", p.y0).attr("x2", ins.x0).attr("y2", rt).attr("stroke", "#222").attr("stroke-width", 1);
    g.append("line").attr("x1", p.x1).attr("y1", p.y1 + 3).attr("x2", ins.x0).attr("y2", rb).attr("stroke", "#222").attr("stroke-width", 1);
    g.append("rect").attr("x", ins.x0).attr("y", rt).attr("width", ins.x1 - ins.x0).attr("height", rb - rt).attr("fill", "#E5E5E5");
    g.append("line").attr("x1", ins.x0).attr("x2", ins.x1).attr("y1", rt).attr("y2", rt).attr("stroke", "#444").attr("stroke-width", 1);
    g.append("line").attr("x1", ins.x0).attr("x2", ins.x1).attr("y1", rb).attr("y2", rb).attr("stroke", "#444").attr("stroke-width", 1);

    const xi = d3.scalePoint().domain(p.genes).range([ins.x0, ins.x1]).padding(0.6);
    const gi = g.append("g").attr("clip-path", clipRect(ins.x0, p.y0, ins.x1, p.y1));
    drawBoxes(gi, p, xi, yi, true, 1.8, 2.6);
    gi.append("line").attr("x1", ins.x0).attr("x2", ins.x1).attr("y1", yi(p.mean)).attr("y2", yi(p.mean))
      .attr("stroke", "#B5202E").attr("stroke-width", 1.3).attr("stroke-dasharray", "4,3");
    const ya = g.append("g").attr("transform", `translate(${ins.x0},0)`)
      .call(d3.axisLeft(yi).tickValues(ins.ticks).tickSize(4).tickSizeOuter(0).tickPadding(2).tickFormat(d3.format("d")));
    styleAxis(ya, 15.5);
    g.append("line").attr("x1", ins.x0).attr("x2", ins.x1).attr("y1", p.y1).attr("y2", p.y1).attr("stroke", "#000").attr("stroke-width", 1.1);
  }

  const gm = g.append("g").attr("clip-path", clipRect(p.x0, p.y0, p.x1, p.y1));
  drawBoxes(gm, p, x, y, false, 2.8, 2.7);
  gm.append("line").attr("x1", p.x0).attr("x2", p.x1).attr("y1", y(p.mean)).attr("y2", y(p.mean))
    .attr("stroke", "#B5202E").attr("stroke-width", 1.5).attr("stroke-dasharray", "5,3");

  const ya = g.append("g").attr("transform", `translate(${p.x0},0)`)
    .call(d3.axisLeft(y).tickValues(p.ticks).tickSize(4).tickSizeOuter(0).tickPadding(3).tickFormat(d3.format("d")));
  styleAxis(ya, 15.5);

  const xa = g.append("g").attr("transform", `translate(0,${p.y1})`)
    .call(d3.axisBottom(x).tickSize(4).tickSizeOuter(0));
  styleAxis(xa, 12);
  xa.selectAll(".tick text")
    .attr("text-anchor", "end").attr("x", 0).attr("y", 0).attr("dy", "0.65em")
    .attr("transform", "translate(10,-1) rotate(-45)")
    .text(d => d.replace("-", "\u2013"));

  g.append("text").attr("transform", `translate(${p.x0 - 46},${(p.y0 + p.y1) / 2}) rotate(-90)`)
    .attr("text-anchor", "middle").style("font-size", "18px").text(p.title);
});
</script>
</body>
</html>
